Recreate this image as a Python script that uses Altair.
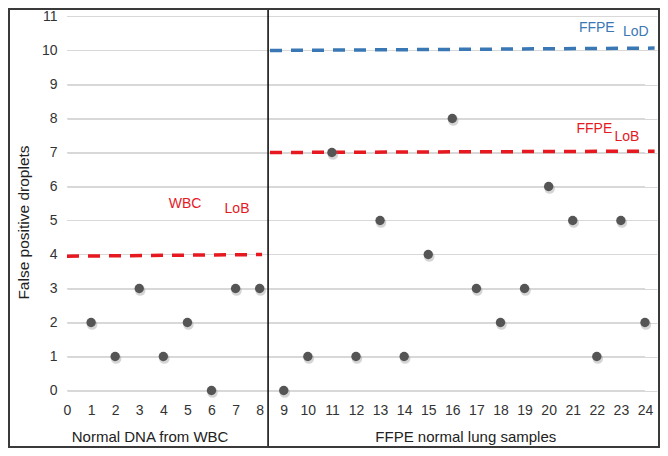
import altair as alt
import pandas as pd

# ---- data ----
sample_ids = list(range(1, 25))
false_pos = [2, 1, 3, 1, 2, 0, 3, 3,            # WBC normal DNA (1-8)
             0, 1, 7, 1, 5, 1, 4, 8, 3, 2, 3, 6, 5, 1, 5, 2]  # FFPE (9-24)

x_ticks = list(range(0, 25))
y_ticks = list(range(0, 12))

# threshold segments (start/end points)
line_group = ["WBC LoB", "WBC LoB", "FFPE LoB", "FFPE LoB", "FFPE LoD", "FFPE LoD"]
line_x = [0.0, 8.1, 8.43, 24.4, 8.43, 24.4]
line_y = [3.95, 4.0, 7.0, 7.04, 10.0, 10.07]

# annotation texts
ann_text = ["WBC", "LoB", "FFPE", "LoB", "FFPE", "LoD"]
ann_x = [4.9, 7.06, 21.9, 23.25, 22.0, 23.62]
ann_y = [5.5, 5.35, 7.68, 7.46, 10.66, 10.53]
ann_col = ["red", "red", "red", "red", "blue", "blue"]

group_labels = ["Normal DNA from WBC", "FFPE normal lung samples"]
group_x = [3.45, 16.56]

divider_x = 8.35

FONT = "Liberation Sans"
RED = "#e5191f"
BLUE = "#3a78b5"
GRID = "#d8d8d8"

pts = pd.DataFrame({"sample": sample_ids, "fp": false_pos})
lines = pd.DataFrame({"g": line_group, "lx": line_x, "ly": line_y})
anns = pd.DataFrame({"t": ann_text, "ax": ann_x, "ay": ann_y, "c": ann_col})
grid = pd.DataFrame({"gy": y_ticks})
groups = pd.DataFrame({"t": group_labels, "gx": group_x})
one = pd.DataFrame({"a": [0]})

xscale = alt.Scale(domain=[0, 24.5], nice=False, zero=False)
yscale = alt.Scale(domain=[-0.25, 11 + 6.5 / 34], nice=False, zero=False)

xaxis = alt.Axis(values=x_ticks, grid=False, domain=False, ticks=False, labelPadding=4,
                 labelOverlap=False, labelFlush=False, format="d", title=None)
yaxis = alt.Axis(values=y_ticks, grid=True, gridColor=GRID, gridWidth=1,
                 domain=False, ticks=False, labelPadding=10,
                 labelOverlap=False, labelFlush=False, format="d",
                 title="False positive droplets", titleX=-44, titleY=212,
                 titleAngle=-90, titleAlign="center", titleBaseline="middle")


def X(field):
    return alt.X(field, scale=xscale, axis=xaxis)


def Y(field):
    return alt.Y(field, scale=yscale, axis=yaxis)


gridlines = alt.Chart(grid).mark_rule(color=GRID, strokeWidth=1).encode(
    y=Y("gy:Q"),
    x=alt.datum(0, scale=xscale, axis=xaxis),
    x2=alt.datum(24),
)

thresholds = alt.Chart(lines).mark_line(strokeWidth=3.5, strokeDash=[12, 9]).encode(
    x=X("lx:Q"),
    y=Y("ly:Q"),
    detail="g:N",
    color=alt.Color("g:N", scale=alt.Scale(domain=["WBC LoB", "FFPE LoB", "FFPE LoD"],
                                           range=[RED, RED, BLUE]), legend=None),
)

shadow = alt.Chart(pts).mark_circle(size=110, color="#888", opacity=0.35, xOffset=1, yOffset=2).encode(
    x=X("sample:Q"),
    y=Y("fp:Q"),
)

points = alt.Chart(pts).mark_circle(size=88, color="#555555", opacity=1).encode(
    x=X("sample:Q"),
    y=Y("fp:Q"),
)

annotations = alt.Chart(anns).mark_text(fontSize=14, font=FONT, align="center", baseline="middle").encode(
    x=X("ax:Q"),
    y=Y("ay:Q"),
    text="t:N",
    color=alt.Color("c:N", scale=alt.Scale(domain=["red", "blue"], range=[RED, BLUE]), legend=None),
)

group_text = alt.Chart(groups).mark_text(fontSize=15, font=FONT, color="#222", baseline="middle").encode(
    x=X("gx:Q"),
    y=alt.value(427),
    text="t:N",
)

divider = alt.Chart(one).mark_rule(color="#111", strokeWidth=1.6).encode(
    x=alt.datum(divider_x, scale=xscale, axis=xaxis),
    y=alt.value(-1),
    y2=alt.value(437),
)

frame = alt.Chart(one).mark_rect(filled=False, stroke="#3a3a3a", strokeWidth=2).encode(
    x=alt.value(-58), x2=alt.value(592), y=alt.value(-1), y2=alt.value(437),
)

chart = alt.layer(
    gridlines, thresholds, shadow, points, annotations, group_text, divider, frame
).resolve_scale(color="independent").properties(
    width=590, height=389,
    autosize="none",
    padding={"left": 59, "top": 2, "right": 3, "bottom": 49},
    background="white",
).configure_view(stroke=None).configure_axis(
    labelFont=FONT, labelFontSize=14, labelColor="#333",
    titleFont=FONT, titleFontSize=15.5, titleFontWeight="normal", titleColor="#222",
)

chart.save("out.html", embed_options={"renderer": "svg", "actions": False})
